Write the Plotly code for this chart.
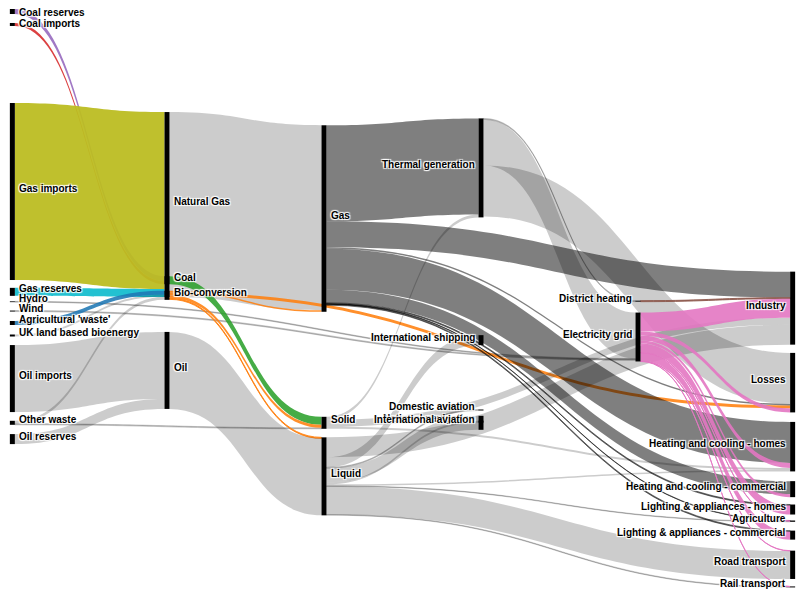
import plotly.graph_objects as go

# ---- data ----
node_labels = [
    "Coal reserves", "Coal imports", "Gas imports", "Gas reserves", "Hydro", "Wind",
    "Agricultural 'waste'", "UK land based bioenergy", "Oil imports", "Other waste", "Oil reserves",
    "Natural Gas", "Coal", "Bio-conversion", "Oil",
    "Gas", "Solid", "Liquid",
    "Thermal generation", "International shipping", "Domestic aviation",
    "International aviation", "National navigation",
    "District heating", "Electricity grid",
    "Industry", "Losses", "Heating and cooling - homes", "Heating and cooling - commercial",
    "Lighting & appliances - homes", "Agriculture", "Lighting & appliances - commercial",
    "Road transport", "Rail transport",
]

link_sources = [
    "Coal reserves", "Coal imports", "Gas imports", "Gas reserves", "Hydro", "Wind",
    "Agricultural 'waste'", "UK land based bioenergy", "Other waste", "Other waste",
    "Oil imports", "Oil reserves",
    "Natural Gas", "Coal", "Bio-conversion", "Bio-conversion", "Bio-conversion", "Bio-conversion",
    "Oil",
    "Gas", "Gas", "Gas", "Gas", "Gas", "Gas", "Gas", "Gas",
    "Solid", "Solid", "Solid",
    "Liquid", "Liquid", "Liquid", "Liquid", "Liquid", "Liquid", "Liquid", "Liquid", "Liquid",
    "Thermal generation", "Thermal generation", "Thermal generation",
    "District heating",
    "Electricity grid", "Electricity grid", "Electricity grid", "Electricity grid",
    "Electricity grid", "Electricity grid", "Electricity grid", "Electricity grid",
    "Electricity grid",
]
link_targets = [
    "Coal", "Coal", "Natural Gas", "Natural Gas", "Electricity grid", "Electricity grid",
    "Bio-conversion", "Bio-conversion", "Bio-conversion", "Solid",
    "Oil", "Oil",
    "Gas", "Solid", "Solid", "Gas", "Liquid", "Losses",
    "Liquid",
    "Thermal generation", "Industry", "Heating and cooling - homes",
    "Heating and cooling - commercial", "Losses", "Agriculture",
    "Lighting & appliances - homes", "Lighting & appliances - commercial",
    "Thermal generation", "Industry", "Heating and cooling - homes",
    "International shipping", "Domestic aviation", "International aviation",
    "National navigation", "Industry", "Road transport", "Rail transport",
    "Agriculture", "Heating and cooling - homes",
    "Losses", "Electricity grid", "District heating",
    "Industry",
    "Industry", "Losses", "Heating and cooling - homes", "Heating and cooling - commercial",
    "Lighting & appliances - homes", "Lighting & appliances - commercial",
    "Agriculture", "Road transport", "Rail transport",
]
link_values = [
    5, 3, 177, 8, 0.8, 1.0,
    4, 2, 3, 1,
    67, 10,
    185, 8, 3, 1.5, 1, 3,
    77,
    96, 26, 41, 13, 1.5, 0.4, 1, 1,
    3, 7, 2,
    10, 1, 14, 2, 20, 28, 0.7, 0.6, 1.5,
    51, 46, 1,
    1,
    19, 4, 5, 3, 9, 8, 0.3, 0.3, 0.3,
]

# ---- layout of the nodes (fractions of the plot area) ----
column_x = [0.003, 0.2, 0.4, 0.6, 0.8, 0.997]
node_column = [0] * 11 + [1] * 4 + [2] * 3 + [3] * 5 + [4] * 2 + [5] * 9
node_y = [
    0.0043, 0.0266, 0.3136, 0.486, 0.503, 0.519, 0.5395, 0.561, 0.635, 0.711, 0.739,
    0.336, 0.466, 0.492, 0.621,
    0.360, 0.711, 0.803,
    0.273, 0.569, 0.689, 0.711, 0.709,
    0.502, 0.5636,
    0.514, 0.642, 0.752, 0.825, 0.860, 0.880, 0.904, 0.955, 0.993,
]
node_x = [column_x[c] for c in node_column]

# ---- styles ----
source_colors = {
    "Agricultural 'waste'": "rgba(31,119,180,0.88)",
    "Bio-conversion": "rgba(255,127,14,0.88)",
    "Coal": "rgba(44,160,44,0.88)",
    "Coal imports": "rgba(214,39,40,0.88)",
    "Coal reserves": "rgba(148,103,189,0.88)",
    "District heating": "rgba(140,86,75,0.88)",
    "Electricity grid": "rgba(227,119,194,0.9)",
    "Gas": "rgba(0,0,0,0.5)",
    "Gas imports": "rgba(188,189,34,0.95)",
    "Gas reserves": "rgba(23,190,207,0.95)",
}
default_link_color = "rgba(0,0,0,0.2)"
font_family = "Liberation Sans, Arial, sans-serif"
halo = "1px 1px 1px #fff, 1px -1px 1px #fff, -1px 1px 1px #fff, -1px -1px 1px #fff"

plot_w, plot_h = 785, 582
margin_t = 1
thickness = 5
label_gap = 3       # px between node bar and its label
label_lift = 3      # px the label sits above the node centre
label_top_min = 5   # keep the label inside the figure at the top
label_spacing = 10  # min px between label centres of separate nodes in a column
idx = {name: i for i, name in enumerate(node_labels)}

# padding chosen so that the tallest column fills the plot height
col0_total = sum(v for s, v in zip(link_sources, link_values) if node_column[idx[s]] == 0)
node_pad = (plot_h - col0_total) / 10.0

fig = go.Figure(go.Sankey(
    arrangement="fixed",
    node=dict(
        label=["" for _ in node_labels],
        customdata=node_labels,
        hovertemplate="%{customdata}: %{value}<extra></extra>",
        x=node_x,
        y=node_y,
        color="black",
        pad=node_pad,
        thickness=thickness,
        line=dict(width=0),
        align="left",
    ),
    link=dict(
        source=[idx[s] for s in link_sources],
        target=[idx[t] for t in link_targets],
        value=link_values,
        color=[source_colors.get(s, default_link_color) for s in link_sources],
    ),
))

# labels: left half of the chart -> text to the right of the node, right half -> to the left
prev = {}  # column -> (node centre px, label centre px)
for i in sorted(range(len(node_labels)), key=lambda k: (node_column[k], node_y[k])):
    lab = node_labels[i]
    col = node_column[i]
    on_right_half = col >= 3
    dx = (thickness / 2 + label_gap) / plot_w
    centre_px = node_y[i] * plot_h
    y_px = max(centre_px - label_lift, label_top_min - margin_t)
    if col in prev and centre_px - prev[col][0] > 5:
        y_px = max(y_px, prev[col][1] + label_spacing)
    prev[col] = (centre_px, y_px)
    fig.add_annotation(
        x=node_x[i] - dx if on_right_half else node_x[i] + dx,
        y=1 - y_px / plot_h,
        xref="paper", yref="paper",
        xanchor="right" if on_right_half else "left", yanchor="middle",
        text=lab, showarrow=False, borderpad=0,
        font=dict(family=font_family, size=10, color="black", weight="bold", shadow=halo),
    )

fig.update_layout(
    width=789, height=584,
    margin=dict(l=2, r=2, t=margin_t, b=1),
    paper_bgcolor="white",
    font=dict(family=font_family, size=10),
)

fig.write_html("out.html")
